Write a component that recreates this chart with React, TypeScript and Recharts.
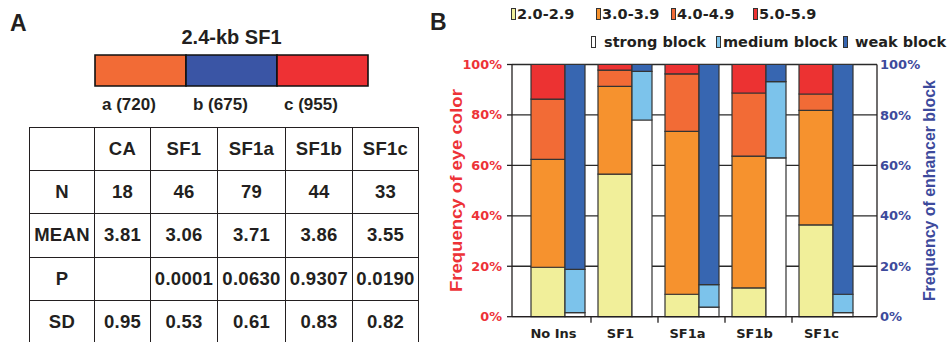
import React from 'react';
import { BarChart, Bar, XAxis, YAxis, CartesianGrid } from 'recharts';

// ---------- Panel A data ----------
const constructTitle = '2.4-kb SF1';
const segmentNames = ['a', 'b', 'c'];
const segmentLengthsBp = [720, 675, 955];
const segmentColors = ['#f26b36', '#3a55a5', '#ee3134'];
const tableColumns = ['CA', 'SF1', 'SF1a', 'SF1b', 'SF1c'];
const tableRowLabels = ['N', 'MEAN', 'P', 'SD'];
const nValues = ['18', '46', '79', '44', '33'];
const meanValues = ['3.81', '3.06', '3.71', '3.86', '3.55'];
const pValues = ['', '0.0001', '0.0630', '0.9307', '0.0190'];
const sdValues = ['0.95', '0.53', '0.61', '0.83', '0.82'];

// ---------- Panel B data ----------
const categories = ['No Ins', 'SF1', 'SF1a', 'SF1b', 'SF1c'];
// eye colour classes (% of flies)
const eye2 = [19.6, 56.5, 8.9, 11.4, 36.4];
const eye3 = [42.8, 34.8, 64.6, 52.3, 45.4];
const eye4 = [23.9, 6.5, 22.8, 25.0, 6.5];
const eye5 = [13.7, 2.2, 3.7, 11.3, 11.7];
// enhancer block classes (%)
const strongBlock = [1.6, 78.0, 3.8, 63.0, 1.6];
const mediumBlock = [17.2, 19.3, 8.9, 30.2, 7.3];
const weakBlock = [81.2, 2.7, 87.3, 6.8, 91.1];
const yTicks = [0, 20, 40, 60, 80, 100];

const eyeLegend = [
  { key: 'e2', label: '2.0-2.9', color: '#f1ef9a' },
  { key: 'e3', label: '3.0-3.9', color: '#f6922e' },
  { key: 'e4', label: '4.0-4.9', color: '#f26b36' },
  { key: 'e5', label: '5.0-5.9', color: '#ec3232' },
];
const blockLegend = [
  { key: 'strong', label: 'strong block', color: '#ffffff' },
  { key: 'medium', label: 'medium block', color: '#7cc3eb' },
  { key: 'weak', label: 'weak block', color: '#3766b1' },
];

const data = categories.map((name, i) => ({
  name,
  e2: eye2[i],
  e3: eye3[i],
  e4: eye4[i],
  e5: eye5[i],
  strong: strongBlock[i],
  medium: mediumBlock[i],
  weak: weakBlock[i],
}));

const schematicData = [
  segmentNames.reduce((acc, n) => ({ ...acc, [n]: 1 }), { name: 'SF1' } as any),
];

// ---------- styles ----------
const ARIAL = '"Liberation Sans", Arial, sans-serif';
const VERDANA = '"DejaVu Sans", Verdana, sans-serif';
const RED = '#ed3237';
const BLUE = '#3d4a9c';
const INK = '#231f20';
const BAR_STROKE = '#333333';

const CHART_LEFT = 430;
const CHART_W = 517;
const CHART_H = 342;
const LEFT_AXIS_W = 82;
const RIGHT_AXIS_W = 70;
const X_PAD = { left: 12, right: 18 };
const HALF_BAND =
  (CHART_W - LEFT_AXIS_W - RIGHT_AXIS_W - X_PAD.left - X_PAD.right) / categories.length / 2;

const legendRow1X = [511, 596, 671, 753];
const legendRow2X = [591, 716, 843];
const legendRow2Gap = [8, 2, 7];

function CategoryTick(props: any) {
  const { x, y, payload, index } = props;
  return (
    <g>
      <text
        x={x - 4}
        y={y + 21}
        textAnchor="middle"
        fontFamily={VERDANA}
        fontWeight="bold"
        fontSize={13}
        fill={INK}
      >
        {payload.value}
      </text>
      {index > 0 && (
        <line x1={x - HALF_BAND} x2={x - HALF_BAND} y1={y} y2={y + 6} stroke={INK} strokeWidth={1.3} />
      )}
    </g>
  );
}

function AxisTitle(props: any) {
  const { viewBox, value, color, offsetX, length } = props;
  if (!viewBox) return null;
  const cx = viewBox.x + offsetX;
  const cy = viewBox.y + viewBox.height / 2;
  return (
    <text
      x={cx}
      y={cy}
      transform={`rotate(-90 ${cx} ${cy})`}
      textAnchor="middle"
      dominantBaseline="central"
      fontFamily={ARIAL}
      fontWeight="bold"
      fontSize={16}
      fill={color}
      textLength={length}
      lengthAdjust="spacingAndGlyphs"
    >
      {value}
    </text>
  );
}

function LegendSwatch({ color }: { color: string }) {
  return (
    <span
      style={{
        display: 'inline-block',
        width: 5,
        height: 12,
        background: color,
        border: '1px solid #333',
        boxSizing: 'border-box',
        flex: 'none',
      }}
    />
  );
}

export default function App() {
  const tableRows = [nValues, meanValues, pValues, sdValues];
  const cellStyle: React.CSSProperties = {
    border: `1.5px solid ${INK}`,
    height: 42.2,
    padding: 0,
    textAlign: 'center',
    verticalAlign: 'middle',
    fontFamily: ARIAL,
    fontWeight: 'bold',
    fontSize: 18.5,
    letterSpacing: 0.3,
    color: INK,
    whiteSpace: 'nowrap',
  };
  const colWidths = [65, 56, 67, 68, 67, 66];

  return (
    <div style={{ position: 'absolute', left: 0, top: 0, width: 947, height: 342, background: '#fff' }}>
      {/* Panel A */}
      <div
        style={{
          position: 'absolute',
          left: 10,
          top: 12,
          fontFamily: ARIAL,
          fontWeight: 'bold',
          fontSize: 23,
          lineHeight: 1,
          color: INK,
        }}
      >
        A
      </div>
      <div
        style={{
          position: 'absolute',
          left: 95,
          width: 273,
          top: 27,
          textAlign: 'center',
          fontFamily: ARIAL,
          fontWeight: 'bold',
          fontSize: 20,
          lineHeight: 1,
          color: INK,
        }}
      >
        {constructTitle}
      </div>
      <div style={{ position: 'absolute', left: 94, top: 54 }}>
        <BarChart
          width={275}
          height={33}
          data={schematicData}
          layout="vertical"
          margin={{ top: 1, right: 1, bottom: 1, left: 1 }}
          barCategoryGap={0}
        >
          <XAxis type="number" hide domain={[0, segmentNames.length]} />
          <YAxis type="category" dataKey="name" hide />
          {segmentNames.map((n, i) => (
            <Bar
              key={n}
              dataKey={n}
              stackId="s"
              fill={segmentColors[i]}
              stroke="#111"
              strokeWidth={1.6}
              isAnimationActive={false}
            />
          ))}
        </BarChart>
      </div>
      <div
        style={{
          position: 'absolute',
          left: 95,
          top: 96,
          width: 273,
          display: 'flex',
          fontFamily: ARIAL,
          fontWeight: 'bold',
          fontSize: 17,
          lineHeight: 1,
          color: INK,
        }}
      >
        {segmentNames.map((n, i) => (
          <div key={n} style={{ width: 91, paddingLeft: 7, boxSizing: 'border-box', whiteSpace: 'nowrap' }}>
            {`${n} (${segmentLengthsBp[i]})`}
          </div>
        ))}
      </div>
      <table
        style={{
          position: 'absolute',
          left: 29,
          top: 127,
          borderCollapse: 'collapse',
          tableLayout: 'fixed',
        }}
      >
        <colgroup>
          {colWidths.map((w, i) => (
            <col key={i} style={{ width: w }} />
          ))}
        </colgroup>
        <tbody>
          <tr>
            <td style={cellStyle}></td>
            {tableColumns.map((c) => (
              <td key={c} style={cellStyle}>
                {c}
              </td>
            ))}
          </tr>
          {tableRows.map((row, r) => (
            <tr key={r}>
              <td style={cellStyle}>{tableRowLabels[r]}</td>
              {row.map((v, i) => (
                <td key={i} style={cellStyle}>
                  {v}
                </td>
              ))}
            </tr>
          ))}
        </tbody>
      </table>

      {/* Panel B */}
      <div
        style={{
          position: 'absolute',
          left: 430,
          top: 11,
          fontFamily: ARIAL,
          fontWeight: 'bold',
          fontSize: 23,
          lineHeight: 1,
          color: INK,
        }}
      >
        B
      </div>
      {eyeLegend.map((it, i) => (
        <div
          key={it.key}
          style={{
            position: 'absolute',
            left: legendRow1X[i],
            top: 6,
            height: 16,
            display: 'flex',
            alignItems: 'center',
            gap: 1,
            fontFamily: VERDANA,
            fontWeight: 'bold',
            fontSize: 14.5,
            color: INK,
            whiteSpace: 'nowrap',
          }}
        >
          <LegendSwatch color={it.color} />
          <span>{it.label}</span>
        </div>
      ))}
      {blockLegend.map((it, i) => (
        <div
          key={it.key}
          style={{
            position: 'absolute',
            left: legendRow2X[i],
            top: 34,
            height: 16,
            display: 'flex',
            alignItems: 'center',
            gap: legendRow2Gap[i],
            fontFamily: VERDANA,
            fontWeight: 'bold',
            fontSize: 14.5,
            color: INK,
            whiteSpace: 'nowrap',
          }}
        >
          <LegendSwatch color={it.color} />
          <span>{it.label}</span>
        </div>
      ))}

      <div style={{ position: 'absolute', left: CHART_LEFT, top: 0 }}>
        <BarChart
          width={CHART_W}
          height={CHART_H}
          data={data}
          margin={{ top: 64.5, right: 0, bottom: 0, left: 0 }}
          barGap={0}
        >
          <CartesianGrid yAxisId="left" vertical={false} stroke="#2a2a2a" strokeWidth={1.3} />
          <XAxis
            dataKey="name"
            height={25.3}
            padding={X_PAD}
            interval={0}
            tickSize={0}
            tickMargin={0}
            tickLine={false}
            axisLine={{ stroke: INK, strokeWidth: 1.3 }}
            tick={<CategoryTick />}
          />
          <YAxis
            yAxisId="left"
            width={LEFT_AXIS_W}
            domain={[0, 100]}
            ticks={yTicks}
            interval={0}
            tickFormatter={(v) => `${v}%`}
            tickSize={5}
            tickMargin={5}
            axisLine={{ stroke: INK, strokeWidth: 1.3 }}
            tickLine={{ stroke: INK, strokeWidth: 1.3 }}
            tick={{ fill: RED, fontFamily: VERDANA, fontWeight: 'bold', fontSize: 12.8 }}
            label={<AxisTitle value="Frequency of eye color" color={RED} offsetX={27} length={203} />}
          />
          <YAxis
            yAxisId="right"
            orientation="right"
            width={RIGHT_AXIS_W}
            domain={[0, 100]}
            ticks={yTicks}
            interval={0}
            tickFormatter={(v) => `${v}%`}
            tickSize={0}
            tickMargin={3}
            axisLine={{ stroke: INK, strokeWidth: 1.3 }}
            tickLine={false}
            tick={{ fill: BLUE, fontFamily: VERDANA, fontWeight: 'bold', fontSize: 13 }}
            label={<AxisTitle value="Frequency of enhancer block" color={BLUE} offsetX={52.5} length={221} />}
          />
          {eyeLegend.map((it) => (
            <Bar
              key={it.key}
              yAxisId="left"
              dataKey={it.key}
              stackId="eye"
              barSize={34}
              fill={it.color}
              stroke={BAR_STROKE}
              strokeWidth={1.2}
              isAnimationActive={false}
            />
          ))}
          {blockLegend.map((it) => (
            <Bar
              key={it.key}
              yAxisId="right"
              dataKey={it.key}
              stackId="block"
              barSize={20}
              fill={it.color}
              stroke={BAR_STROKE}
              strokeWidth={1.2}
              isAnimationActive={false}
            />
          ))}
        </BarChart>
      </div>
    </div>
  );
}
